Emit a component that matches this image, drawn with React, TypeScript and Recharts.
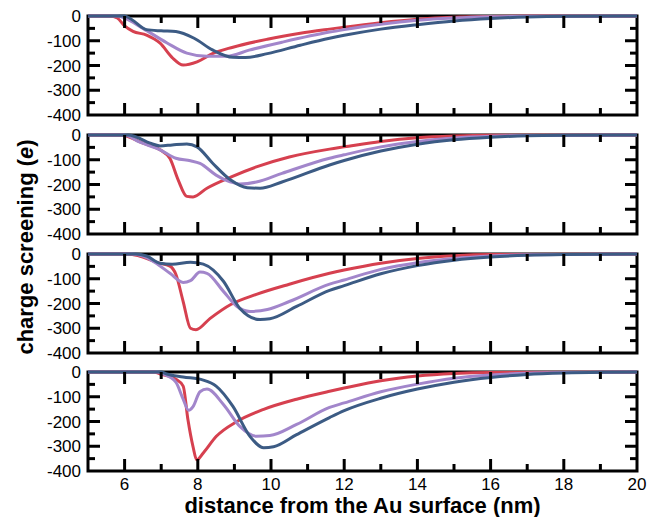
import React from "react";
import { LineChart, Line, XAxis, YAxis, ReferenceLine, ReferenceArea } from "recharts";

const X_LABEL_TICKS = [6, 8, 10, 12, 14, 16, 18, 20];
const X_MAJOR = [6, 8, 10, 12, 14, 16, 18];
const X_MINOR = [7, 9, 11, 13, 15, 17, 19];
const Y_LABEL_TICKS = [0, -100, -200, -300, -400];
const Y_MAJOR = [-100, -200, -300];
const Y_MINOR = [-50, -150, -250, -350];

// [distance (nm), charge screening (e)]
const P1_RED = [[5, 0], [5.6, 0], [5.8, -8], [6.0, -40], [6.23, -62], [6.6, -77], [6.97, -110], [7.3, -168], [7.6, -198], [7.98, -185], [8.4, -152], [8.96, -126], [9.9, -94], [10.8, -70], [11.6, -53], [12, -45], [13, -27], [14, -13], [15, -5], [16, -2], [17, -0.5], [20, 0]];
const P1_PURPLE = [[5, 0], [5.8, 0], [6.0, -8], [6.5, -50], [7.15, -108], [7.7, -150], [8.25, -163], [8.8, -163], [9.4, -138], [10.3, -106], [11.6, -65], [12, -55], [13, -33], [14, -17], [15, -8], [16, -3], [17, -1], [20, 0]];
const P1_BLUE = [[5, 0], [6.0, 0], [6.2, -15], [6.6, -55], [7.0, -60], [7.4, -63], [7.9, -90], [8.4, -137], [8.96, -167], [9.3, -168], [9.9, -152], [10.8, -118], [11.6, -90], [12, -78], [13, -53], [14, -35], [15, -20], [16, -10], [17, -4], [18, -1], [20, 0]];

const P2_RED = [[5, 0], [5.9, 0], [6.5, -33], [6.97, -60], [7.24, -95], [7.46, -180], [7.7, -248], [7.87, -250], [8.25, -215], [8.9, -170], [9.6, -129], [10.5, -89], [11.6, -57], [12, -48], [13, -26], [14, -11], [15, -4], [16, -1], [20, 0]];
const P2_PURPLE = [[5, 0], [6.0, 0], [6.4, -28], [6.97, -60], [7.4, -94], [7.8, -104], [8.06, -115], [8.5, -162], [8.9, -190], [9.15, -198], [9.6, -190], [10.3, -155], [11.6, -94], [12, -80], [13, -48], [14, -26], [15, -12], [16, -5], [17, -2], [20, 0]];
const P2_BLUE = [[5, 0], [6.1, 0], [6.3, -7], [6.7, -33], [6.97, -44], [7.3, -40], [7.7, -36], [7.98, -48], [8.4, -113], [8.9, -182], [9.35, -213], [9.7, -215], [10.3, -190], [11.6, -121], [12, -103], [13, -65], [14, -37], [15, -19], [16, -9], [17, -3], [18, -1], [20, 0]];

const P3_RED = [[5, 0], [6.1, 0], [6.4, -8], [6.9, -35], [7.24, -49], [7.4, -82], [7.6, -192], [7.8, -300], [7.95, -306], [8.33, -261], [8.9, -204], [9.6, -163], [10.5, -122], [11.6, -78], [12, -65], [13, -37], [14, -18], [15, -7], [16, -2], [20, 0]];
const P3_PURPLE = [[5, 0], [6.2, 0], [6.5, -8], [6.9, -41], [7.24, -78], [7.6, -115], [7.8, -108], [8.06, -73], [8.25, -78], [8.7, -151], [9.07, -212], [9.43, -232], [9.9, -224], [10.5, -192], [11.6, -122], [12, -105], [13, -62], [14, -35], [15, -18], [16, -8], [17, -3], [20, 0]];
const P3_BLUE = [[5, 0], [6.3, 0], [6.6, -8], [6.97, -37], [7.3, -41], [7.8, -33], [8.15, -41], [8.7, -110], [9.15, -220], [9.7, -265], [9.97, -262], [10.7, -212], [11.6, -147], [12, -128], [13, -80], [14, -47], [15, -25], [16, -12], [17, -5], [18, -2], [20, 0]];

const P4_RED = [[5, 0], [6.8, 0], [6.97, -8], [7.4, -29], [7.6, -57], [7.73, -192], [7.87, -302], [7.97, -355], [8.15, -327], [8.5, -261], [9.07, -200], [9.8, -151], [10.7, -110], [11.6, -78], [12, -65], [13, -35], [14, -16], [15, -6], [16, -2], [20, 0]];
const P4_PURPLE = [[5, 0], [6.9, 0], [7.05, -8], [7.4, -41], [7.6, -110], [7.75, -155], [7.87, -140], [8.06, -80], [8.25, -69], [8.7, -131], [9.15, -220], [9.6, -260], [9.97, -257], [10.7, -212], [11.6, -143], [12, -125], [13, -80], [14, -49], [15, -25], [16, -12], [17, -5], [18, -2], [20, 0]];
const P4_BLUE = [[5, 0], [7.0, 0], [7.15, -8], [7.6, -20], [8.15, -33], [8.5, -57], [8.96, -139], [9.43, -261], [9.8, -306], [10.07, -302], [10.7, -253], [11.6, -184], [12, -156], [13, -106], [14, -69], [15, -41], [16, -22], [17, -10], [18, -4], [19, -1], [20, 0]];

const COLORS = ["#d6404f", "#a286cb", "#3c5b84"];
const FONT = "'Liberation Sans', Arial, Helvetica, sans-serif";

const W = 648;
const PLOT_LEFT = 88;
const PLOT_RIGHT = 637;
const PLOT_W = PLOT_RIGHT - PLOT_LEFT;
const PLOT_H = 99;
const MT = 14;
const XH = 30;
const PANEL_TOPS = [16, 135, 253.5, 372];
const MAJOR_PX = 12;
const MINOR_PX = 7;
const X_MIN = 5;
const X_MAX = 20;
const Y_MIN = -400;
const Y_MAX = 0;

const PANELS = [
  [P1_RED, P1_PURPLE, P1_BLUE],
  [P2_RED, P2_PURPLE, P2_BLUE],
  [P3_RED, P3_PURPLE, P3_BLUE],
  [P4_RED, P4_PURPLE, P4_BLUE],
];

const toPoints = (arr: number[][]) => arr.map(([x, v]) => ({ x, v }));
const LABEL_STYLE = { fontSize: 17, fontFamily: FONT, fill: "#000" };

// tick-mark segments (inward on all four sides), lengths converted from px to data units
const pxToX = (px: number) => (px / PLOT_W) * (X_MAX - X_MIN);
const pxToY = (px: number) => (px / PLOT_H) * (Y_MAX - Y_MIN);

function tickSegments() {
  const segs: { x: number; y: number }[][] = [];
  const addX = (vals: number[], px: number) =>
    vals.forEach((x) => {
      segs.push([{ x, y: Y_MIN }, { x, y: Y_MIN + pxToY(px) }]);
      segs.push([{ x, y: Y_MAX }, { x, y: Y_MAX - pxToY(px) }]);
    });
  const addY = (vals: number[], px: number) =>
    vals.forEach((y) => {
      segs.push([{ x: X_MIN, y }, { x: X_MIN + pxToX(px), y }]);
      segs.push([{ x: X_MAX, y }, { x: X_MAX - pxToX(px), y }]);
    });
  addX(X_MAJOR, MAJOR_PX);
  addX(X_MINOR, MINOR_PX);
  addY(Y_MAJOR, MAJOR_PX);
  addY(Y_MINOR, MINOR_PX);
  return segs;
}
const TICK_SEGMENTS = tickSegments();

function Panel({ top, series, showLabels }: { top: number; series: number[][][]; showLabels: boolean }) {
  return (
    <div style={{ position: "absolute", left: 0, top: top - MT }}>
      <LineChart width={W} height={MT + PLOT_H + XH} margin={{ top: MT, right: W - PLOT_RIGHT, bottom: 0, left: 0 }}>
        <XAxis
          type="number"
          dataKey="x"
          domain={[X_MIN, X_MAX]}
          ticks={X_LABEL_TICKS}
          interval={0}
          tickSize={0}
          tickMargin={7}
          axisLine={false}
          tickLine={false}
          height={XH}
          tick={showLabels ? LABEL_STYLE : false}
        />
        <YAxis
          type="number"
          dataKey="v"
          domain={[Y_MIN, Y_MAX]}
          ticks={Y_LABEL_TICKS}
          interval={0}
          width={PLOT_LEFT}
          tickSize={0}
          tickMargin={7}
          axisLine={false}
          tickLine={false}
          tick={LABEL_STYLE}
        />
        {series.map((s, i) => (
          <Line
            key={i}
            data={toPoints(s)}
            dataKey="v"
            type="monotone"
            stroke={COLORS[i]}
            strokeWidth={3}
            dot={false}
            isAnimationActive={false}
          />
        ))}
        {TICK_SEGMENTS.map((seg, i) => (
          <ReferenceLine key={"t" + i} segment={seg} stroke="#000" strokeWidth={3} ifOverflow="visible" />
        ))}
        <ReferenceArea
          x1={X_MIN}
          x2={X_MAX}
          y1={Y_MIN}
          y2={Y_MAX}
          fill="none"
          fillOpacity={0}
          stroke="#000"
          strokeWidth={3}
          ifOverflow="visible"
        />
      </LineChart>
    </div>
  );
}

export default function App() {
  return (
    <div style={{ position: "absolute", left: 0, top: 0, width: W, height: 517, background: "#fff", fontFamily: FONT }}>
      {PANELS.map((s, i) => (
        <Panel key={i} top={PANEL_TOPS[i]} series={s} showLabels={i === PANELS.length - 1} />
      ))}
      <div
        style={{
          position: "absolute",
          left: (PLOT_LEFT + PLOT_RIGHT) / 2 - 250,
          width: 500,
          top: 495,
          textAlign: "center",
          fontSize: 22,
          fontWeight: "bold",
          lineHeight: "22px",
          whiteSpace: "nowrap",
        }}
      >
        distance from the Au surface (nm)
      </div>
      <div
        style={{
          position: "absolute",
          left: 26 - 150,
          top: 247 - 12,
          width: 300,
          height: 24,
          lineHeight: "24px",
          textAlign: "center",
          fontSize: 22,
          fontWeight: "bold",
          whiteSpace: "nowrap",
          transform: "rotate(-90deg)",
        }}
      >
        charge screening (<i>e</i>)
      </div>
    </div>
  );
}
